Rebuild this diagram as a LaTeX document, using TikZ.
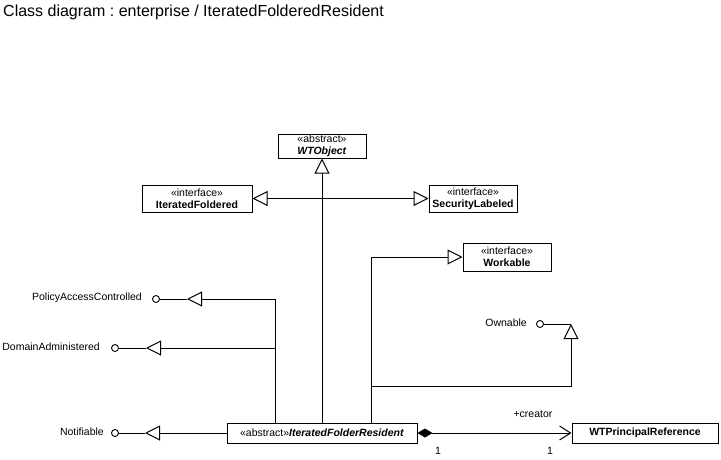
\documentclass[tikz,border=0pt]{standalone}
\usepackage{fontspec}
\setmainfont{Liberation Sans}
\usetikzlibrary{arrows.meta}
\frenchspacing
\begin{document}
\begin{tikzpicture}[x=1pt,y=-1pt,
  cls/.style={draw, rectangle, fill=white, inner sep=0pt, align=center, font=\fontsize{10.5}{12}\selectfont, line width=1pt},
  lbl/.style={font=\fontsize{10.5}{12}\selectfont, inner sep=0pt},
  lolli/.style={draw, circle, inner sep=0pt, minimum size=7pt, fill=white, line width=0.9pt},
  gen/.style={-{Triangle[open, length=15pt, width=15pt, fill=white]}, line width=1pt},
  ln/.style={line width=1pt},
]
\useasboundingbox (0,0) rectangle (721,459);
% title
\node[anchor=base west, inner sep=0pt, font=\fontsize{16}{19}\selectfont] (title) at (3,16) {Class diagram : enterprise / IteratedFolderedResident};
% classes
\node[cls, minimum width=88pt, minimum height=24pt] (wto) at (322,146) {«abstract»\\\textbf{\textit{WTObject}}};
\node[cls, minimum width=110pt, minimum height=27pt] (itf) at (197,198.5) {«interface»\\\textbf{IteratedFoldered}};
\node[cls, minimum width=88pt, minimum height=27pt] (sec) at (473,198.5) {«interface»\\\textbf{SecurityLabeled}};
\node[cls, minimum width=88pt, minimum height=28pt] (wrk) at (507,257) {«interface»\\\textbf{Workable}};
\node[cls, minimum width=190pt, minimum height=20pt] (ifr) at (322,433) {«abstract»\textbf{\textit{IteratedFolderResident}}};
\node[cls, minimum width=146pt, minimum height=20pt] (wtp) at (645,433) {\textbf{WTPrincipalReference}};
% helper columns
\coordinate (c275) at (275,0);
\coordinate (c371) at (371,0);
% lollipop interfaces
\node[lolli] (pacC) at (156,299) {};
\node[lbl, anchor=east] (pacT) at (142,298) {PolicyAccessControlled};
\coordinate (pacTip) at (187,299);
\node[lolli] (daC) at (115,348) {};
\node[lbl, anchor=east] (daT) at (100,347) {DomainAdministered};
\coordinate (daTip) at (146,348);
\node[lolli] (notC) at (115,433) {};
\node[lbl, anchor=east] (notT) at (104,432) {Notifiable};
\coordinate (notTip) at (145,433);
\node[lolli] (ownC) at (540,324) {};
\node[lbl, anchor=east] (ownT) at (527,323) {Ownable};
\coordinate (ownTip) at (571,324);
\coordinate (ownBend) at (571,386);
\draw[ln] (pacC) -- (pacTip);
\draw[ln] (daC) -- (daTip);
\draw[ln] (notC) -- (notTip);
\draw[ln] (ownC) -- (ownTip);
% generalizations / realizations
\draw[gen] (ifr.north -| c275) |- (pacTip);
\draw[gen] (ifr.north -| c275) |- (daTip);
\draw[gen] (ifr.west) -- (notTip);
\draw[gen] (ifr.north) -- (wto.south);
\draw[gen] (ifr.north) |- (itf.east);
\draw[gen] (ifr.north) |- (sec.west);
\draw[gen] (ifr.north -| c371) |- (wrk.west);
\draw[gen] (ifr.north -| c371) |- (ownBend) -- (ownTip);
% composition
\draw[ln, {Diamond[length=15pt,width=9pt]}-{Straight Barb[length=11pt,width=14pt]}] (ifr.east) -- (wtp.west);
\node[lbl] (creator) at (533,414) {+creator};
\node[lbl] (m1) at (438,451) {1};
\node[lbl] (m2) at (550,451) {1};
\end{tikzpicture}
\end{document}
